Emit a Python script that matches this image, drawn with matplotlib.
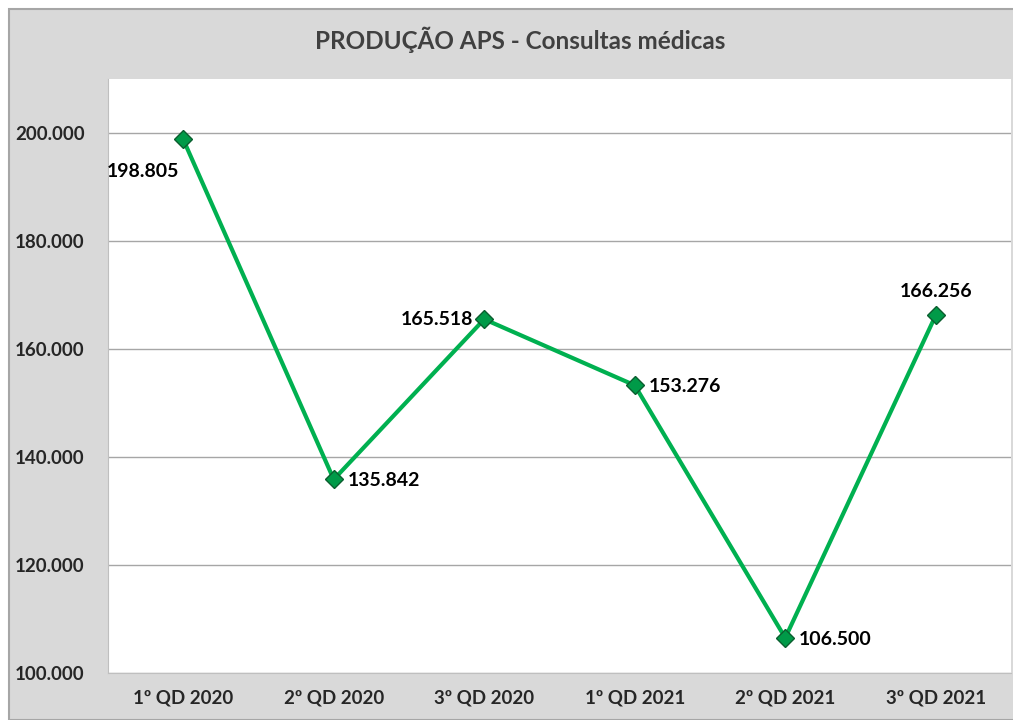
import matplotlib.pyplot as plt
from matplotlib.patches import Rectangle
from matplotlib.ticker import FuncFormatter

periodos = ['1º QD 2020', '2º QD 2020', '3º QD 2020', '1º QD 2021', '2º QD 2021', '3º QD 2021']
consultas = [198805, 135842, 165518, 153276, 106500, 166256]
rotulos = ['198.805', '135.842', '165.518', '153.276', '106.500', '166.256']
# onde fica o rotulo de cada ponto (dx, dy em pontos, alinhamento)
posicoes = [(-3, -23, 'right'), (10, -1, 'left'), (-8, 0, 'right'),
            (10, -1, 'left'), (10, -1, 'left'), (0, 17, 'center')]

plt.rcParams['font.family'] = ['Lato', 'DejaVu Sans']

fig = plt.figure(figsize=(10.13, 7.2), dpi=100)
fig.patch.set_facecolor('white')
fig.patches.append(Rectangle((9 / 1013, 0), 1.0, 1 - 9 / 720, transform=fig.transFigure,
                             facecolor='#D9D9D9', edgecolor='#A6A6A6', linewidth=1.5, zorder=-10))

ax = fig.add_axes([108 / 1013, 1 - 673 / 720, (1011 - 108) / 1013, (673 - 79) / 720])
ax.set_facecolor('white')

x = list(range(len(periodos)))
ax.plot(x, consultas, color='#00B050', linewidth=3, marker='D', markersize=9,
        markerfacecolor='#009A48', markeredgecolor='#0B5E2F', markeredgewidth=1, zorder=3)

for i, (v, t) in enumerate(zip(consultas, rotulos)):
    dx, dy, ha = posicoes[i]
    ax.annotate(t, (i, v), xytext=(dx, dy), textcoords='offset points', ha=ha, va='center',
                fontsize=14, fontweight='bold', color='black')

ax.set_xlim(-0.5, len(periodos) - 0.5)
ax.set_ylim(100000, 210000)
ax.set_yticks(range(100000, 200001, 20000))
ax.yaxis.set_major_formatter(FuncFormatter(lambda v, p: f'{int(v):,}'.replace(',', '.')))
ax.set_xticks(x)
ax.set_xticklabels(periodos)
ax.grid(axis='y', color='#A6A6A6', linewidth=1)
ax.set_axisbelow(True)
ax.tick_params(length=0, labelsize=13.5, labelcolor='#262626', pad=12)
ax.tick_params(axis='y', pad=17)
for lbl in ax.get_xticklabels() + ax.get_yticklabels():
    lbl.set_fontweight('bold')
for s in ['top', 'right']:
    ax.spines[s].set_visible(False)
for s in ['left', 'bottom']:
    ax.spines[s].set_color('#BFBFBF')

fig.text(520 / 1013, 1 - 40 / 720, 'PRODUÇÃO APS - Consultas médicas', ha='center', va='center',
         fontsize=17.5, fontweight='bold', color='#404040')

fig.savefig('out.png', dpi=100)
